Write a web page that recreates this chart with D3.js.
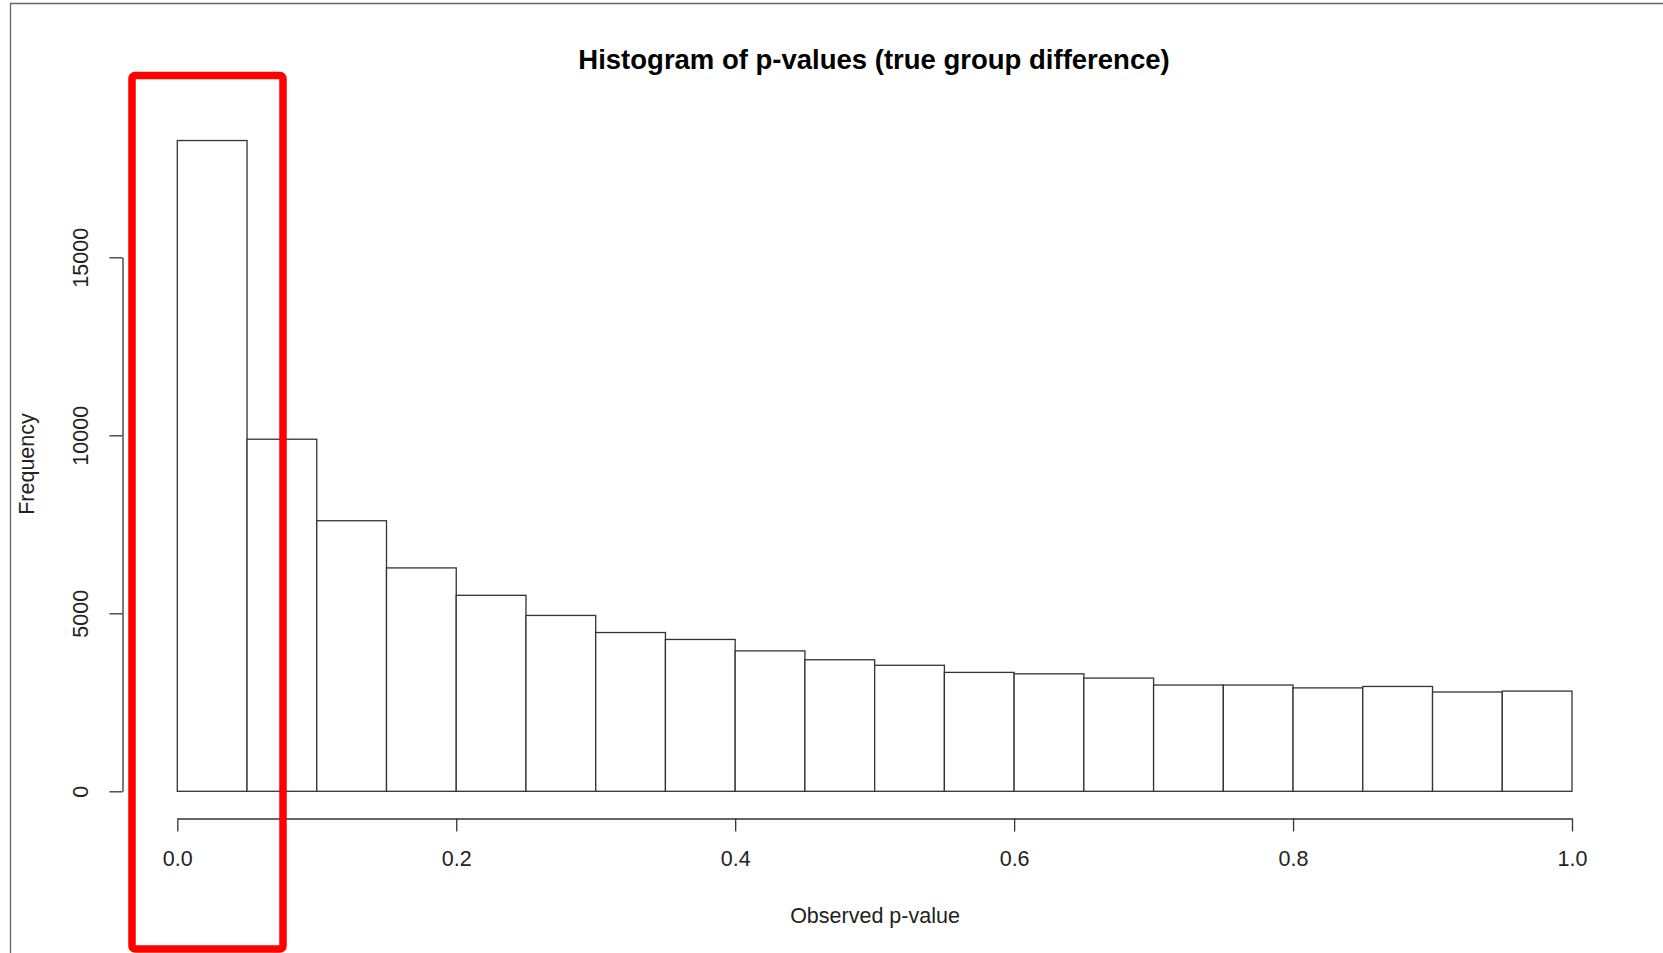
<!DOCTYPE html>
<html>
<head>
<meta charset="utf-8">
<script src="https://cdn.jsdelivr.net/npm/d3@7"></script>
<style>
  body { margin: 0; background: #fff; }
  text { font-family: "Liberation Sans", Arial, sans-serif; fill: #222; }
</style>
</head>
<body>
<script>
var width = 1663, height = 953;

// histogram bins (p-value breaks) and counts
var binEdges = [0, 0.05, 0.1, 0.15, 0.2, 0.25, 0.3, 0.35, 0.4, 0.45, 0.5,
                0.55, 0.6, 0.65, 0.7, 0.75, 0.8, 0.85, 0.9, 0.95, 1.0];
var counts = [18280, 9890, 7600, 6275, 5505, 4940, 4460, 4265, 3945, 3695,
              3540, 3340, 3300, 3180, 2985, 2985, 2905, 2945, 2790, 2815];
var xTicks = [0, 0.2, 0.4, 0.6, 0.8, 1.0];
var yTicks = [0, 5000, 10000, 15000];

var bins = counts.map(function (c, i) { return { x0: binEdges[i], x1: binEdges[i + 1], n: c }; });

var svg = d3.select("body").append("svg")
  .attr("width", width)
  .attr("height", height);

// scales
var xscale = d3.scaleLinear().domain([0, 1]).range([177.3, 1572]);
var yscale = d3.scaleLinear().domain([0, 15000]).range([791.3, 257.3]);

// screenshot frame
svg.append("path")
  .attr("d", "M10.5," + height + "V3.5H" + width)
  .attr("fill", "none")
  .attr("stroke", "#666")
  .attr("stroke-width", 1.3);

// bars
svg.selectAll("rect.bar")
  .data(bins)
  .enter()
  .append("rect")
  .attr("class", "bar")
  .attr("x", function (d) { return xscale(d.x0); })
  .attr("y", function (d) { return yscale(d.n); })
  .attr("width", function (d) { return xscale(d.x1) - xscale(d.x0); })
  .attr("height", function (d) { return yscale(0) - yscale(d.n); })
  .attr("fill", "#fff")
  .attr("stroke", "#333")
  .attr("stroke-width", 1.3);

// x axis (R style, offset below bars)
var x_axis = d3.axisBottom(xscale)
  .tickValues(xTicks)
  .tickFormat(d3.format(".1f"))
  .tickSize(13)
  .tickSizeOuter(0)
  .tickPadding(19);

var gx = svg.append("g").attr("class", "xaxis")
  .attr("transform", "translate(0,818.5)")
  .call(x_axis);
gx.select(".domain").attr("stroke", "#333").attr("stroke-width", 1.3);
gx.selectAll(".tick line").attr("stroke", "#333").attr("stroke-width", 1.3);
gx.selectAll(".tick text")
  .attr("font-size", 21.5)
  .attr("font-family", "Liberation Sans, Arial, sans-serif")
  .attr("fill", "#222");

// y axis
var y_axis = d3.axisLeft(yscale)
  .tickValues(yTicks)
  .tickFormat(d3.format("d"))
  .tickSize(13)
  .tickSizeOuter(0);

var gy = svg.append("g").attr("class", "yaxis")
  .attr("transform", "translate(122.5,0)")
  .call(y_axis);
gy.select(".domain").attr("stroke", "#333").attr("stroke-width", 1.3);
gy.selectAll(".tick line").attr("stroke", "#333").attr("stroke-width", 1.3);
gy.selectAll(".tick text")
  .attr("font-size", 21.5)
  .attr("font-family", "Liberation Sans, Arial, sans-serif")
  .attr("fill", "#222")
  .attr("x", null)
  .attr("dy", null)
  .attr("text-anchor", "middle")
  .attr("transform", "translate(-35,0) rotate(-90)")
  .attr("y", 0);

// labels
svg.append("text")
  .attr("x", 874)
  .attr("y", 68.5)
  .attr("text-anchor", "middle")
  .attr("font-size", 27.5)
  .attr("font-weight", "bold")
  .style("fill", "#000")
  .text("Histogram of p-values (true group difference)");

svg.append("text")
  .attr("x", 875)
  .attr("y", 923)
  .attr("text-anchor", "middle")
  .attr("font-size", 21.5)
  .text("Observed p-value");

svg.append("text")
  .attr("transform", "translate(33.5,464) rotate(-90)")
  .attr("text-anchor", "middle")
  .attr("font-size", 21.5)
  .text("Frequency");

// red highlight box around the first bin
svg.append("rect")
  .attr("x", xscale(0) - 45.3)
  .attr("y", 75.5)
  .attr("width", 151)
  .attr("height", 873.5)
  .attr("rx", 3)
  .attr("fill", "none")
  .attr("stroke", "#ff0000")
  .attr("stroke-width", 7.5);
</script>
</body>
</html>
